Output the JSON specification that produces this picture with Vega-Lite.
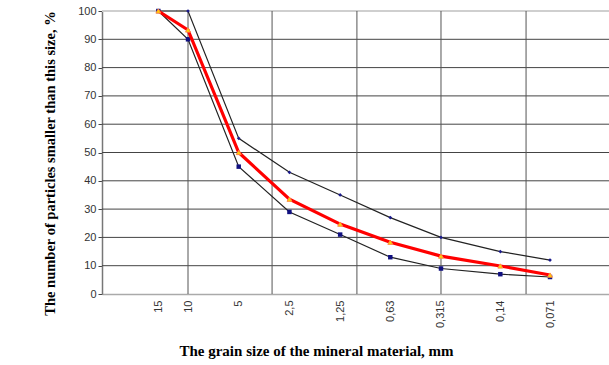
{
  "$schema": "https://vega.github.io/schema/vega-lite/v6.json",
  "autosize": {"type": "none"},
  "width": 507,
  "height": 283,
  "padding": {"left": 102, "top": 11, "right": 0, "bottom": 71},
  "background": "white",
  "config": {"view": {"stroke": null}},
  "title": {
    "text": "a)",
    "orient": "bottom",
    "anchor": "start",
    "frame": "group",
    "dx": -95,
    "offset": 46,
    "font": "Liberation Serif",
    "fontSize": 24,
    "fontWeight": "normal",
    "color": "#000"
  },
  "datasets": {
    "series": [
      {"size": 15, "curve": "upper", "pct": 100},
      {"size": 10, "curve": "upper", "pct": 100},
      {"size": 5, "curve": "upper", "pct": 55},
      {"size": 2.5, "curve": "upper", "pct": 43},
      {"size": 1.25, "curve": "upper", "pct": 35},
      {"size": 0.63, "curve": "upper", "pct": 27},
      {"size": 0.315, "curve": "upper", "pct": 20},
      {"size": 0.14, "curve": "upper", "pct": 15},
      {"size": 0.071, "curve": "upper", "pct": 12},
      {"size": 15, "curve": "lower", "pct": 100},
      {"size": 10, "curve": "lower", "pct": 90},
      {"size": 5, "curve": "lower", "pct": 45},
      {"size": 2.5, "curve": "lower", "pct": 29},
      {"size": 1.25, "curve": "lower", "pct": 21},
      {"size": 0.63, "curve": "lower", "pct": 13},
      {"size": 0.315, "curve": "lower", "pct": 9},
      {"size": 0.14, "curve": "lower", "pct": 7},
      {"size": 0.071, "curve": "lower", "pct": 6}
    ],
    "mix": [
      {"size": 15, "pct": 100},
      {"size": 10, "pct": 93.3},
      {"size": 5, "pct": 50},
      {"size": 2.5, "pct": 33.5},
      {"size": 1.25, "pct": 24.7},
      {"size": 0.63, "pct": 18.3},
      {"size": 0.315, "pct": 13.4},
      {"size": 0.14, "pct": 9.9},
      {"size": 0.071, "pct": 6.7}
    ],
    "hgrid": [
      {"v": 10}, {"v": 20}, {"v": 30}, {"v": 40}, {"v": 50},
      {"v": 60}, {"v": 70}, {"v": 80}, {"v": 90}
    ],
    "vgrid": [
      {"g": 10}, {"g": 3.17}, {"g": 0.994}, {"g": 0.315}, {"g": 0.0985}
    ]
  },
  "encoding": {
    "x": {
      "field": "size",
      "type": "quantitative",
      "scale": {"type": "log", "base": 2, "domain": [0.0317, 32.4], "reverse": true, "nice": false, "zero": false},
      "axis": {
        "values": [15, 10, 5, 2.5, 1.25, 0.63, 0.315, 0.14, 0.071],
        "labelExpr": "replace(toString(datum.value), '.', ',')",
        "labelAngle": 270,
        "labelAlign": "right",
        "labelBaseline": "middle",
        "labelPadding": 6,
        "labelFont": "Liberation Sans",
        "labelFontSize": 11,
        "labelColor": "#333",
        "labelOverlap": false,
        "labelFlush": false,
        "ticks": false,
        "grid": false,
        "domain": true,
        "domainColor": "#aaa",
        "domainWidth": 1.5,
        "title": "The grain size of the mineral material, mm",
        "titleFont": "Liberation Serif",
        "titleFontSize": 15,
        "titleFontWeight": "bold",
        "titleColor": "#000",
        "titleX": 214,
        "titlePadding": 16
      }
    },
    "y": {
      "field": "pct",
      "type": "quantitative",
      "scale": {"domain": [0, 100], "nice": false},
      "axis": {
        "values": [0, 10, 20, 30, 40, 50, 60, 70, 80, 90, 100],
        "labelOverlap": false,
        "labelFont": "Liberation Sans",
        "labelFontSize": 11,
        "labelColor": "#333",
        "labelPadding": 2,
        "ticks": true,
        "tickSize": 4,
        "tickColor": "#444",
        "grid": false,
        "domain": true,
        "domainColor": "#777",
        "domainWidth": 1.5,
        "title": "The number  of particles smaller than this size, %",
        "titleFont": "Liberation Serif",
        "titleFontSize": 14.5,
        "titleFontWeight": "bold",
        "titleColor": "#000",
        "titleY": 152,
        "titlePadding": 20
      }
    }
  },
  "layer": [
    {
      "data": {"name": "hgrid"},
      "mark": {"type": "rule", "color": "#444", "strokeWidth": 1},
      "encoding": {
        "x": {"value": 0},
        "x2": {"value": 507},
        "y": {"field": "v", "type": "quantitative"}
      }
    },
    {
      "data": {"values": [{"v": 100}]},
      "mark": {"type": "rule", "color": "#cfcfcf", "strokeWidth": 2},
      "encoding": {
        "x": {"value": 0},
        "x2": {"value": 507},
        "y": {"field": "v", "type": "quantitative"}
      }
    },
    {
      "data": {"name": "vgrid"},
      "mark": {"type": "rule", "color": "#555", "strokeWidth": 1},
      "encoding": {
        "x": {"field": "g", "type": "quantitative"},
        "y": {"value": 0},
        "y2": {"value": 283}
      }
    },
    {
      "data": {"name": "series"},
      "mark": {"type": "line", "color": "#222", "strokeWidth": 1.2},
      "encoding": {"detail": {"field": "curve"}}
    },
    {
      "data": {"name": "series"},
      "transform": [{"filter": "datum.curve == 'upper'"}],
      "mark": {"type": "point", "shape": "diamond", "filled": true, "color": "#1a1a8c", "size": 14, "opacity": 1},
      "encoding": {}
    },
    {
      "data": {"name": "series"},
      "transform": [{"filter": "datum.curve == 'lower'"}],
      "mark": {"type": "point", "shape": "square", "filled": true, "color": "#101080", "size": 20, "opacity": 1},
      "encoding": {}
    },
    {
      "data": {"name": "mix"},
      "mark": {"type": "line", "color": "#ff0000", "strokeWidth": 3.2},
      "encoding": {}
    },
    {
      "data": {"name": "mix"},
      "mark": {"type": "point", "shape": "triangle-up", "filled": true, "fill": "#ffd700", "stroke": "#ff8c40", "strokeWidth": 1, "size": 24, "opacity": 1},
      "encoding": {}
    }
  ]
}
